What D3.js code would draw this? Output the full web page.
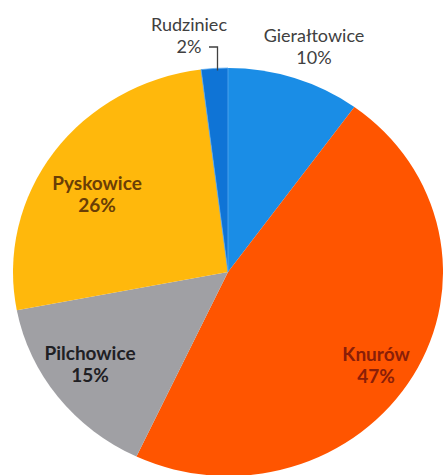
<!DOCTYPE html>
<html>
<head>
<meta charset="utf-8">
<script src="https://cdn.jsdelivr.net/npm/d3@7"></script>
<style>
  html, body { margin: 0; padding: 0; background: #fff; }
  svg { display: block; }
</style>
</head>
<body>
<svg id="pie"></svg>
<script>
// share of each gmina, clockwise from 12 o'clock
const names = ["Gierałtowice", "Knurów", "Pilchowice", "Pyskowice", "Rudziniec"];
const shares = [10, 47, 15, 26, 2];
const sliceColors = ["#1a8de6", "#ff5500", "#a0a0a4", "#ffb80c", "#0f74d6"];
const labelColors = ["#404040", "#8a1e08", "#202024", "#6a3e06", "#404040"];

const w = 443, h = 475;
const cx = 228, cy = 272;
const rx = 215, ry = 204;

// label anchors (first line baseline) relative to pie centre
const labelPos = {
  "Gierałtowice": [86, -230],
  "Knurów": [148, 89],
  "Pilchowice": [-138, 88],
  "Pyskowice": [-131, -82],
  "Rudziniec": [-39, -241]
};
const lineGap = 22;

const svg = d3.select("#pie")
  .attr("width", w)
  .attr("height", h);

const data = names.map((n, i) => ({ name: n, value: shares[i], color: sliceColors[i], text: labelColors[i] }));

const pie = d3.pie()
  .value(d => d.value)
  .sort(null);

const arc = d3.arc()
  .innerRadius(0)
  .outerRadius(rx);

const arcs = pie(data);

// slightly squashed vertically like the source
const chart = svg.append("g")
  .attr("transform", `translate(${cx},${cy}) scale(1,${ry / rx})`);

chart.selectAll("path")
  .data(arcs)
  .join("path")
    .attr("d", arc)
    .attr("fill", d => d.data.color)
    .attr("stroke", d => d.data.name === "Rudziniec" ? "#5aaaf0" : "none")
    .attr("stroke-width", 0.8);

const labels = svg.append("g")
  .attr("transform", `translate(${cx},${cy})`)
  .style("font-family", "Lato, 'Open Sans', sans-serif")
  .attr("text-anchor", "middle");

arcs.forEach((d, i) => {
  const p = labelPos[d.data.name];
  const inside = d.data.value > 12;
  const t = labels.append("text")
    .attr("fill", d.data.text)
    .style("font-size", inside ? "19px" : "18px")
    .style("font-weight", inside ? "bold" : "normal");
  t.append("tspan").attr("x", p[0]).attr("y", p[1]).text(d.data.name);
  t.append("tspan").attr("x", p[0]).attr("y", p[1] + lineGap).text(d.data.value + "%");
});

// leader line for the thin Rudziniec slice
const small = arcs[4];
const mid = (small.startAngle + small.endAngle) / 2;
const ex = Math.sin(mid) * rx;
const ey = -Math.cos(mid) * ry;
const lp = labelPos["Rudziniec"];
labels.append("path")
  .attr("d", `M${lp[0] + 20},${lp[1] + lineGap - 6}H${ex + 3}V${ey + 2}`)
  .attr("fill", "none")
  .attr("stroke", "#404040")
  .attr("stroke-width", 1.3);
</script>
</body>
</html>
